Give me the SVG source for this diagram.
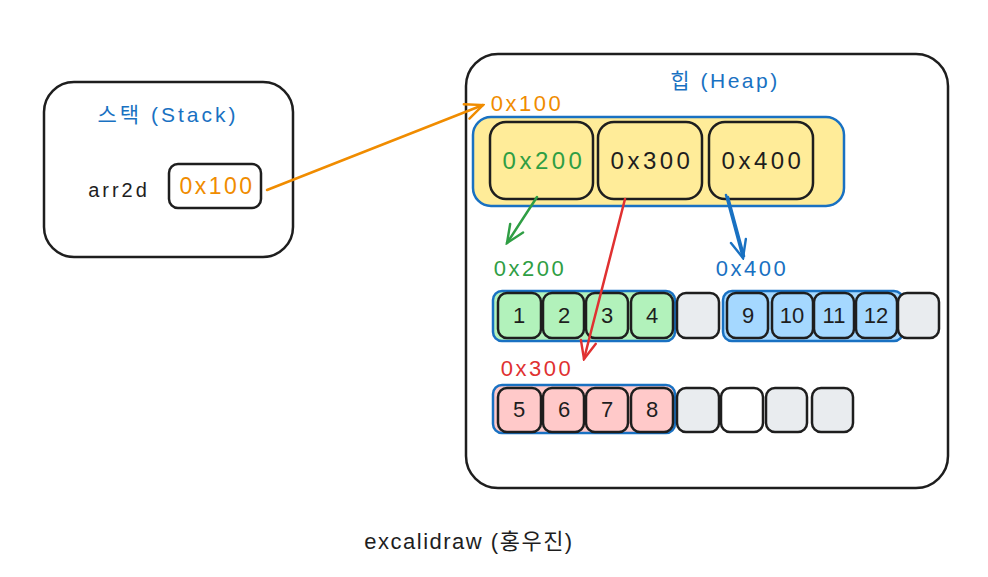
<svg xmlns="http://www.w3.org/2000/svg" width="988" height="577" viewBox="0 0 988 577">
<defs>
<style>
text{font-family:"Liberation Sans","Noto Sans CJK KR",sans-serif;text-anchor:middle;dominant-baseline:central}
.frame{fill:#fff;stroke:#1e1e1e;stroke-width:2.5}
.cell{stroke:#1e1e1e;stroke-width:2.5}
.grp{stroke:#1971c2;stroke-width:2.5}
.num{font-size:22px;fill:#1e1e1e}
.addr{font-size:24px;letter-spacing:3.5px}
.lbl{font-size:22px;letter-spacing:2.5px}
.title{font-size:21px;fill:#1971c2;letter-spacing:3px}
.gray{fill:#e9ecef}
.conn{fill:none;stroke-width:2.5;stroke-linecap:round}
</style>
<marker id="ahO" viewBox="0 0 20 20" refX="18" refY="10" markerWidth="22" markerHeight="22" markerUnits="userSpaceOnUse" orient="auto"><path d="M2,3 L18,10 L2,17" fill="none" stroke="#f08c00" stroke-width="2.2" stroke-linecap="round"/></marker>
<marker id="ahG" viewBox="0 0 20 20" refX="18" refY="10" markerWidth="22" markerHeight="22" markerUnits="userSpaceOnUse" orient="auto"><path d="M2,3 L18,10 L2,17" fill="none" stroke="#2f9e44" stroke-width="2.2" stroke-linecap="round"/></marker>
<marker id="ahR" viewBox="0 0 20 20" refX="18" refY="10" markerWidth="22" markerHeight="22" markerUnits="userSpaceOnUse" orient="auto"><path d="M2,3 L18,10 L2,17" fill="none" stroke="#e03131" stroke-width="2.2" stroke-linecap="round"/></marker>
<marker id="ahB" viewBox="0 0 20 20" refX="18" refY="10" markerWidth="22" markerHeight="22" markerUnits="userSpaceOnUse" orient="auto"><path d="M2,3 L18,10 L2,17" fill="none" stroke="#1971c2" stroke-width="2.2" stroke-linecap="round"/></marker>
</defs>
<rect width="988" height="577" fill="#fff"/>

<g id="stack">
<rect class="frame" x="44" y="82" width="249" height="175" rx="30"/>
<text class="title" x="168" y="114">스택 (Stack)</text>
<text x="119" y="190" style="font-size:20px;fill:#1e1e1e;letter-spacing:3px">arr2d</text>
<g id="stack-ptr">
<rect class="cell" fill="#fff" x="169" y="164" width="92" height="44" rx="9"/>
<text x="217" y="186" fill="#f08c00" style="font-size:23px;letter-spacing:2.5px">0x100</text>
</g>
</g>

<g id="heap">
<rect class="frame" x="466" y="54" width="482" height="434" rx="32"/>
<text class="title" x="725" y="80" style="letter-spacing:2.5px">힙 (Heap)</text>
<text class="lbl" x="527" y="103" fill="#f08c00">0x100</text>
</g>

<g id="outer-array">
<rect class="grp" fill="#ffec99" x="473" y="117" width="371" height="89" rx="18"/>
<g id="p200"><rect class="cell" fill="#ffec99" x="490" y="122" width="103" height="77" rx="16"/><text class="addr" x="544" y="160" fill="#2f9e44">0x200</text></g>
<g id="p300"><rect class="cell" fill="#ffec99" x="598" y="122" width="104" height="77" rx="16"/><text class="addr" x="652" y="160" fill="#1e1e1e">0x300</text></g>
<g id="p400"><rect class="cell" fill="#ffec99" x="709" y="122" width="104" height="77" rx="16"/><text class="addr" x="763" y="160" fill="#1e1e1e">0x400</text></g>
</g>

<g id="labels">
<text class="lbl" x="530" y="268" fill="#2f9e44">0x200</text>
<text class="lbl" x="752" y="268" fill="#1971c2">0x400</text>
<text class="lbl" x="537" y="368" fill="#e03131">0x300</text>
</g>

<g id="row200">
<rect class="grp" fill="#b2f2bb" x="493" y="291" width="182" height="50" rx="9"/>
<g id="c1"><rect class="cell" fill="#b2f2bb" x="498" y="293" width="43" height="45" rx="9"/><text class="num" x="519" y="315">1</text></g>
<g id="c2"><rect class="cell" fill="#b2f2bb" x="543" y="293" width="41" height="45" rx="9"/><text class="num" x="564" y="315">2</text></g>
<g id="c3"><rect class="cell" fill="#b2f2bb" x="586" y="293" width="42" height="45" rx="9"/><text class="num" x="607" y="315">3</text></g>
<g id="c4"><rect class="cell" fill="#b2f2bb" x="631" y="293" width="42" height="45" rx="9"/><text class="num" x="652" y="315">4</text></g>
<g id="c1e"><rect class="cell gray" x="677" y="293" width="42" height="45" rx="9"/></g>
</g>

<g id="row400">
<rect class="grp" fill="#a5d8ff" x="723" y="291" width="180" height="50" rx="9"/>
<g id="c9"><rect class="cell" fill="#a5d8ff" x="727" y="293" width="41" height="45" rx="9"/><text class="num" x="748" y="315">9</text></g>
<g id="c10"><rect class="cell" fill="#a5d8ff" x="772" y="293" width="41" height="45" rx="9"/><text class="num" x="792" y="315">10</text></g>
<g id="c11"><rect class="cell" fill="#a5d8ff" x="814" y="293" width="40" height="45" rx="9"/><text class="num" x="834" y="315">11</text></g>
<g id="c12"><rect class="cell" fill="#a5d8ff" x="856" y="293" width="41" height="45" rx="9"/><text class="num" x="876" y="315">12</text></g>
<g id="c2e"><rect class="cell gray" x="898" y="293" width="41" height="45" rx="9"/></g>
</g>

<g id="row300">
<rect class="grp" fill="#ffc9c9" x="493" y="385" width="182" height="48" rx="9"/>
<g id="c5"><rect class="cell" fill="#ffc9c9" x="498" y="388" width="43" height="44" rx="9"/><text class="num" x="519" y="409">5</text></g>
<g id="c6"><rect class="cell" fill="#ffc9c9" x="543" y="388" width="41" height="44" rx="9"/><text class="num" x="564" y="409">6</text></g>
<g id="c7"><rect class="cell" fill="#ffc9c9" x="586" y="388" width="42" height="44" rx="9"/><text class="num" x="607" y="409">7</text></g>
<g id="c8"><rect class="cell" fill="#ffc9c9" x="631" y="388" width="42" height="44" rx="9"/><text class="num" x="652" y="409">8</text></g>
<g id="c3e"><rect class="cell gray" x="677" y="388" width="42" height="44" rx="9"/></g>
<g id="c4e"><rect class="cell" fill="#fff" x="721" y="388" width="42" height="44" rx="9"/></g>
<g id="c5e"><rect class="cell gray" x="766" y="388" width="41" height="44" rx="9"/></g>
<g id="c6e"><rect class="cell gray" x="812" y="388" width="41" height="44" rx="9"/></g>
</g>

<g id="connectors">
<path class="conn" stroke="#f08c00" d="M267,190 L483,105" marker-end="url(#ahO)"/>
<path class="conn" stroke="#2f9e44" d="M537,197 L507,243" marker-end="url(#ahG)"/>
<path class="conn" stroke="#e03131" d="M625,199 L584,359" marker-end="url(#ahR)"/>
<path class="conn" stroke="#1971c2" d="M726,195 L743,258" marker-end="url(#ahB)"/>
<path class="conn" stroke="#1971c2" stroke-width="1.5" d="M728,197 L744,256"/>
</g>

<text x="469" y="541" style="font-size:22px;fill:#1e1e1e;letter-spacing:1.5px">excalidraw (홍우진)</text>
</svg>
